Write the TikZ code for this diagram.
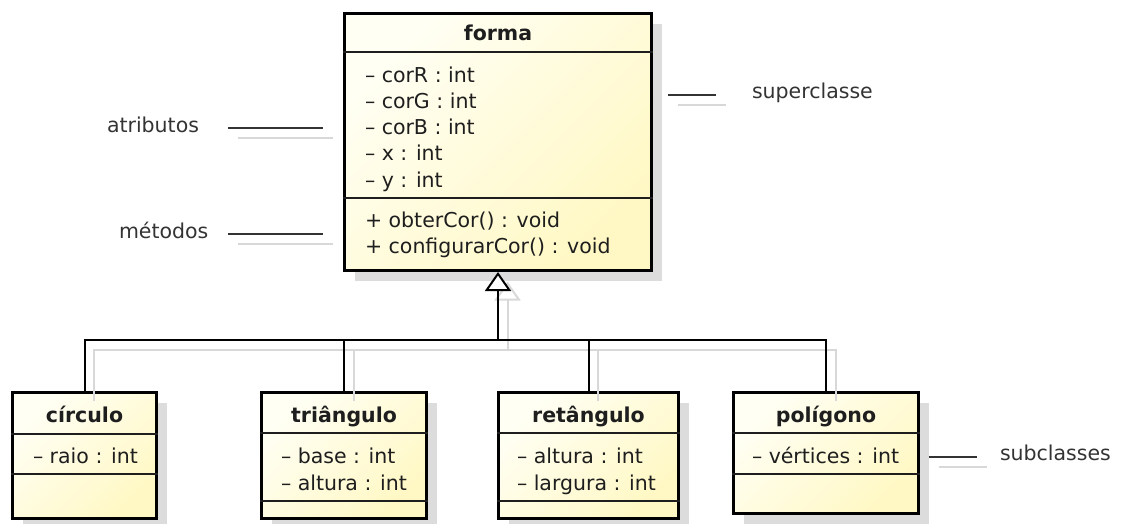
\documentclass[tikz,border=0pt]{standalone}
\usepackage{fontspec}
\setmainfont{DejaVu Sans}
\usetikzlibrary{arrows.meta,shadows}

\definecolor{ink}{HTML}{1E1E1E}
\definecolor{labelink}{HTML}{333333}
\definecolor{creamA}{RGB}{255,255,244}
\definecolor{creamB}{RGB}{255,248,196}
\definecolor{boxshade}{HTML}{DCDCDC}
\definecolor{lineshade}{HTML}{D8D8D8}

\newcommand\umlsize{\fontsize{20.5pt}{26pt}\selectfont}

\begin{document}
\begin{tikzpicture}[x=1pt,y=-1pt,
  every node/.style={inner sep=0pt, outer sep=0pt, font=\umlsize, text=ink},
  cls/.style={draw=black, line width=3pt, outer sep=1.5pt,
    top color=creamA, bottom color=creamB, shading angle=45,
    drop shadow={shadow xshift=10pt, shadow yshift=-10pt, fill=boxshade, opacity=1}},
  sep/.style={draw=ink, line width=1.6pt},
  title/.style={anchor=base, font=\umlsize\bfseries},
  attr/.style={anchor=base west},
  note/.style={anchor=base west, text=labelink},
  gen/.style={draw=black, line width=2pt},
  notel/.style={draw=labelink, line width=2pt},
  shadowl/.style={draw=lineshade, line width=2pt},
  tip/.style={-{Triangle[length=19pt, width=26pt, fill=white]}},
  tipshade/.style={-{Triangle[length=19pt, width=26pt, open]}}
]
\useasboundingbox (0,0) rectangle (1128,523);

% class boxes
\node[cls, minimum width=307pt, minimum height=257pt] (forma) at (498,142) {};
\node[cls, minimum width=144pt, minimum height=126pt] (circ) at (84.5,455.5) {};
\node[cls, minimum width=165pt, minimum height=126pt] (tri)  at (344,455.5) {};
\node[cls, minimum width=180pt, minimum height=126pt] (ret)  at (588.5,455.5) {};
\node[cls, minimum width=185pt, minimum height=121pt] (pol)  at (826,453) {};

% compartment separators
\draw[sep] (forma.west |- 0,52)  -- (forma.east |- 0,52);
\draw[sep] (forma.west |- 0,198) -- (forma.east |- 0,198);
\draw[sep] (circ.west |- 0,434) -- (circ.east |- 0,434);
\draw[sep] (circ.west |- 0,474) -- (circ.east |- 0,474);
\draw[sep] (tri.west |- 0,433)  -- (tri.east |- 0,433);
\draw[sep] (tri.west |- 0,501)  -- (tri.east |- 0,501);
\draw[sep] (ret.west |- 0,433)  -- (ret.east |- 0,433);
\draw[sep] (ret.west |- 0,501)  -- (ret.east |- 0,501);
\draw[sep] (pol.west |- 0,433)  -- (pol.east |- 0,433);
\draw[sep] (pol.west |- 0,474)  -- (pol.east |- 0,474);

% junction of the generalization lines
\coordinate (hub) at (forma.south |- 0,340);

% note line end points
\coordinate (atrA) at (228,128);  \coordinate (atrB) at (323,128);
\coordinate (metA) at (228,234);  \coordinate (metB) at (323,234);
\coordinate (supA) at (668,95);   \coordinate (supB) at (716,95);
\coordinate (subA) at (929,457);  \coordinate (subB) at (977,457);

% soft shadows of the lines
\begin{scope}[transform canvas={xshift=9.5pt, yshift=-9.5pt}]
  \draw[shadowl] (circ.north) |- (hub);
  \draw[shadowl] (tri.north) |- (hub);
  \draw[shadowl] (ret.north) |- (hub);
  \draw[shadowl] (pol.north) |- (hub);
  \draw[shadowl, tipshade] (hub) -- (forma.south);
  \draw[shadowl] (atrA) -- (atrB);
  \draw[shadowl] (metA) -- (metB);
  \draw[shadowl] (supA) -- (supB);
  \draw[shadowl] (subA) -- (subB);
\end{scope}

% generalization: every subclass points to forma
\draw[gen] (circ.north) |- (hub);
\draw[gen] (tri.north) |- (hub);
\draw[gen] (ret.north) |- (hub);
\draw[gen] (pol.north) |- (hub);
\draw[gen, tip] (hub) -- (forma.south);

% note lines
\draw[notel] (atrA) -- (atrB);
\draw[notel] (metA) -- (metB);
\draw[notel] (supA) -- (supB);
\draw[notel] (subA) -- (subB);

% forma
\node[title] (formaT) at (498,40) {forma};
\node[attr] (fa1) at (365,82.5) {– corR : int};
\node[attr] (fa2) at (365,108.6) {– corG : int};
\node[attr] (fa3) at (365,134.8) {– corB : int};
\node[attr] (fa4) at (365,160.9) {– x : int};
\node[attr] (fa5) at (365,187) {– y : int};
\node[attr] (fm1) at (365,227) {+ obterCor() : void};
\node[attr] (fm2) at (365,253) {+ configurarCor() : void};

% círculo
\node[title] (circT) at (84.5,422) {círculo};
\node[attr] (ca1) at (33,463) {– raio : int};

% triângulo
\node[title] (triT) at (344,422) {triângulo};
\node[attr] (ta1) at (281,463) {– base : int};
\node[attr] (ta2) at (281,490) {– altura : int};

% retângulo
\node[title] (retT) at (588.5,422) {retângulo};
\node[attr] (ra1) at (517,463) {– altura : int};
\node[attr] (ra2) at (517,490) {– largura : int};

% polígono
\node[title] (polT) at (826,422) {polígono};
\node[attr] (pa1) at (752,463) {– vértices : int};

% side notes
\node[note] (atr) at (107,132) {atributos};
\node[note] (met) at (119,238) {métodos};
\node[note] (sup) at (752,98) {superclasse};
\node[note] (sub) at (1000,460) {subclasses};
\end{tikzpicture}
\end{document}
